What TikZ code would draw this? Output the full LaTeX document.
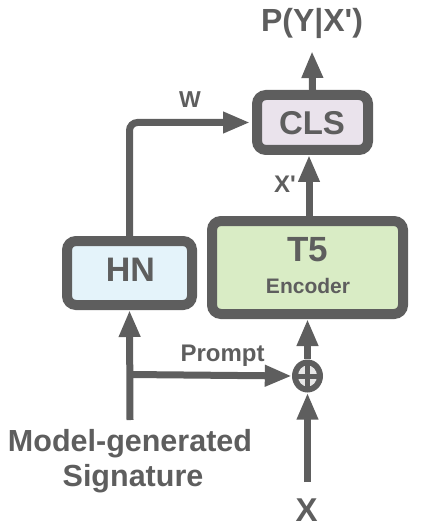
\documentclass[tikz,border=0pt]{standalone}
\usepackage{fontspec}
\setmainfont{Liberation Sans}
\usetikzlibrary{arrows.meta,shapes.geometric}
\definecolor{gc}{HTML}{5E5E5E}
\definecolor{clsfill}{HTML}{EAE3EC}
\definecolor{tfill}{HTML}{D9ECC5}
\definecolor{hnfill}{HTML}{E4F3FA}
\begin{document}
\begin{tikzpicture}[x=1pt,y=-1pt,
  box/.style={draw=gc,line width=10pt,rounded corners=9pt,inner sep=0pt},
  lbl/.style={text=gc,font=\bfseries,anchor=base,inner sep=0pt},
  arr/.style={draw=gc,line width=7pt,-{Triangle[width=20pt,length=27pt]}}]
\useasboundingbox (0,0) rectangle (428,529);
% boxes
\node[box,fill=clsfill,minimum width=111pt,minimum height=55pt] (CLS) at (312.5,122.5) {};
\node[box,fill=tfill,minimum width=191pt,minimum height=93pt] (T5) at (307.5,267.5) {};
\node[box,fill=hnfill,minimum width=125pt,minimum height=64pt] (HN) at (129.5,273) {};
% texts
\node[lbl,font=\bfseries\fontsize{32}{36}\selectfont] (out) at (312,32) {P(Y|X\textquotesingle)};
\node[lbl,font=\bfseries\fontsize{33}{38}\selectfont] (clst) at (312,135) {CLS};
\node[lbl,font=\bfseries\fontsize{35}{40}\selectfont] (t5t) at (307.5,261) {T5};
\node[lbl,font=\bfseries\fontsize{21}{24}\selectfont] (enct) at (308,293) {Encoder};
\node[lbl,font=\bfseries\fontsize{34}{38}\selectfont] (hnt) at (130.5,281.5) {HN};
\node[lbl,font=\bfseries\fontsize{23}{26}\selectfont] (wt) at (190,108) {W};
\node[lbl,font=\bfseries\fontsize{24}{26}\selectfont] (xpt) at (285,193) {X\textquotesingle};
\node[lbl,font=\bfseries\fontsize{24}{26}\selectfont] (pt) at (222.5,361.5) {Prompt};
\node[lbl,font=\bfseries\fontsize{30.5}{35}\selectfont] (sig1) at (130,451.5) {Model-generated};
\node[lbl,font=\bfseries\fontsize{30.5}{35}\selectfont] (sig2) at (133,486.5) {Signature};
\node[lbl,font=\bfseries\fontsize{33}{38}\selectfont] (xt) at (306.7,521.5) {X};
% plus
\node[ellipse,fill=gc,minimum width=31pt,minimum height=33pt,inner sep=0pt] (plus) at (307.5,376) {};
\fill[white!85!gc] (plus.center) ellipse (9.5pt and 10.5pt);
\draw[gc,line width=5pt] ([yshift=-12pt]plus.center) -- ([yshift=12pt]plus.center);
\draw[gc,line width=5pt] ([xshift=-11pt]plus.center) -- ([xshift=11pt]plus.center);
% coordinates
\coordinate (sigtop) at (130,420);
\coordinate (branch) at (130,374.5);
\coordinate (xtop) at (307.5,482);
\coordinate (outbot) at (312,51);
% connectors
\draw[arr] (CLS.north) -- (outbot);
\draw[arr,rounded corners=8pt] (HN.north) |- ([xshift=-2pt]CLS.west);
\draw[arr] ([xshift=1.5pt]T5.north) -- ([xshift=1.5pt]T5.north |- CLS.south);
\draw[arr] (plus.north) -- (plus.north |- T5.south);
\draw[arr] (xtop) -- (plus.south);
\draw[arr] (sigtop) -- (HN.south);
\draw[arr] (branch) -- (plus.west);
\end{tikzpicture}
\end{document}
